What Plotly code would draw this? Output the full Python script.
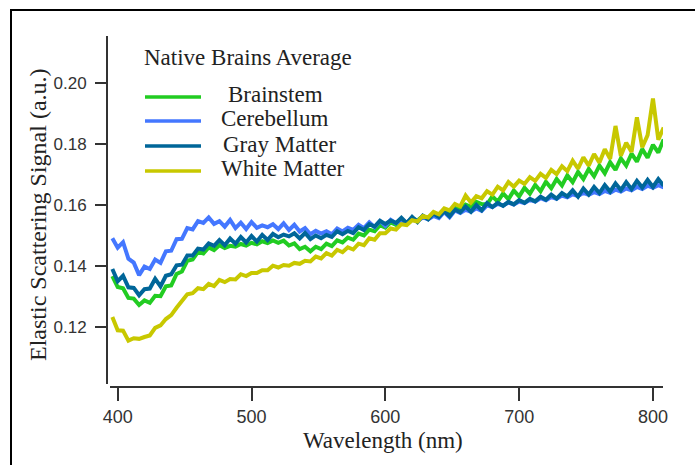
import plotly.graph_objects as go

# ---------------- data ----------------
wavelength = [
    396, 400, 404, 408, 412, 416, 420, 424, 428, 432,
    436, 440, 444, 448, 452, 456, 460, 464, 468, 472,
    476, 480, 484, 488, 492, 496, 500, 504, 508, 512,
    516, 520, 524, 528, 532, 536, 540, 544, 548, 552,
    556, 560, 564, 568, 572, 576, 580, 584, 588, 592,
    596, 600, 604, 608, 612, 616, 620, 624, 628, 632,
    636, 640, 644, 648, 652, 656, 660, 664, 668, 672,
    676, 680, 684, 688, 692, 696, 700, 704, 708, 712,
    716, 720, 724, 728, 732, 736, 740, 744, 748, 752,
    756, 760, 764, 768, 772, 776, 780, 784, 788, 792,
    796, 800, 804, 808,
]

brainstem = [
    0.1368, 0.1332, 0.1328, 0.1296, 0.1294, 0.1273, 0.1288, 0.1280, 0.1303, 0.1302,
    0.1334, 0.1337, 0.1375, 0.1383, 0.1418, 0.1422, 0.1447, 0.1442, 0.1462, 0.1453,
    0.1469, 0.1460, 0.1467, 0.1464, 0.1473, 0.1468, 0.1477, 0.1472, 0.1482, 0.1476,
    0.1485, 0.1477, 0.1484, 0.1468, 0.1475, 0.1456, 0.1464, 0.1449, 0.1464, 0.1456,
    0.1474, 0.1466, 0.1485, 0.1478, 0.1494, 0.1487, 0.1507, 0.1501, 0.1520, 0.1515,
    0.1535, 0.1527, 0.1544, 0.1536, 0.1552, 0.1543, 0.1558, 0.1550, 0.1565, 0.1558,
    0.1573, 0.1566, 0.1582, 0.1575, 0.1592, 0.1586, 0.1602, 0.1595, 0.1611, 0.1604,
    0.1603, 0.1629, 0.1612, 0.1639, 0.1620, 0.1648, 0.1629, 0.1657, 0.1638, 0.1667,
    0.1646, 0.1677, 0.1656, 0.1686, 0.1665, 0.1698, 0.1676, 0.1709, 0.1686, 0.1719,
    0.1695, 0.1730, 0.1705, 0.1741, 0.1716, 0.1754, 0.1730, 0.1769, 0.1743, 0.1784,
    0.1756, 0.1798, 0.1773, 0.1816,
]

cerebellum = [
    0.1492, 0.1461, 0.1479, 0.1425, 0.1412, 0.1371, 0.1399, 0.1391, 0.1422, 0.1411,
    0.1449, 0.1451, 0.1489, 0.1490, 0.1525, 0.1521, 0.1548, 0.1542, 0.1560, 0.1539,
    0.1548, 0.1530, 0.1552, 0.1525, 0.1543, 0.1522, 0.1545, 0.1526, 0.1534, 0.1528,
    0.1538, 0.1522, 0.1541, 0.1519, 0.1536, 0.1514, 0.1525, 0.1505, 0.1516, 0.1507,
    0.1515, 0.1505, 0.1524, 0.1514, 0.1526, 0.1519, 0.1536, 0.1525, 0.1544, 0.1528,
    0.1548, 0.1532, 0.1552, 0.1541, 0.1550, 0.1544, 0.1556, 0.1549, 0.1560, 0.1554,
    0.1565, 0.1558, 0.1578, 0.1561, 0.1583, 0.1575, 0.1585, 0.1579, 0.1590, 0.1582,
    0.1600, 0.1594, 0.1605, 0.1599, 0.1609, 0.1602, 0.1612, 0.1607, 0.1618, 0.1612,
    0.1623, 0.1616, 0.1627, 0.1621, 0.1632, 0.1626, 0.1636, 0.1630, 0.1641, 0.1634,
    0.1643, 0.1637, 0.1647, 0.1641, 0.1651, 0.1645, 0.1655, 0.1649, 0.1660, 0.1653,
    0.1664, 0.1657, 0.1666, 0.1659,
]

gray_matter = [
    0.1391, 0.1351, 0.1369, 0.1331, 0.1329, 0.1305, 0.1325, 0.1327, 0.1359, 0.1334,
    0.1369, 0.1374, 0.1403, 0.1405, 0.1435, 0.1435, 0.1458, 0.1455, 0.1475, 0.1467,
    0.1486, 0.1469, 0.1491, 0.1474, 0.1496, 0.1478, 0.1499, 0.1481, 0.1503, 0.1486,
    0.1506, 0.1495, 0.1504, 0.1498, 0.1508, 0.1491, 0.1509, 0.1489, 0.1501, 0.1492,
    0.1503, 0.1496, 0.1515, 0.1505, 0.1516, 0.1509, 0.1528, 0.1519, 0.1538, 0.1530,
    0.1549, 0.1539, 0.1550, 0.1542, 0.1559, 0.1541, 0.1562, 0.1545, 0.1566, 0.1554,
    0.1573, 0.1562, 0.1581, 0.1564, 0.1586, 0.1577, 0.1596, 0.1579, 0.1601, 0.1584,
    0.1607, 0.1594, 0.1608, 0.1598, 0.1611, 0.1603, 0.1617, 0.1608, 0.1621, 0.1613,
    0.1628, 0.1618, 0.1635, 0.1622, 0.1640, 0.1629, 0.1649, 0.1628, 0.1655, 0.1635,
    0.1660, 0.1640, 0.1666, 0.1645, 0.1672, 0.1650, 0.1676, 0.1653, 0.1680, 0.1658,
    0.1683, 0.1660, 0.1686, 0.1664,
]

white_matter = [
    0.1234, 0.1190, 0.1189, 0.1156, 0.1164, 0.1162, 0.1168, 0.1173, 0.1198, 0.1206,
    0.1227, 0.1240, 0.1264, 0.1287, 0.1308, 0.1312, 0.1328, 0.1325, 0.1342, 0.1335,
    0.1355, 0.1348, 0.1358, 0.1357, 0.1374, 0.1368, 0.1378, 0.1378, 0.1387, 0.1387,
    0.1402, 0.1396, 0.1404, 0.1402, 0.1411, 0.1408, 0.1418, 0.1416, 0.1432, 0.1426,
    0.1443, 0.1435, 0.1454, 0.1446, 0.1462, 0.1455, 0.1474, 0.1469, 0.1492, 0.1487,
    0.1508, 0.1508, 0.1524, 0.1520, 0.1538, 0.1535, 0.1551, 0.1547, 0.1565, 0.1560,
    0.1578, 0.1570, 0.1590, 0.1583, 0.1604, 0.1596, 0.1632, 0.1609, 0.1630, 0.1623,
    0.1646, 0.1635, 0.1661, 0.1649, 0.1676, 0.1661, 0.1681, 0.1670, 0.1692, 0.1680,
    0.1703, 0.1690, 0.1716, 0.1702, 0.1728, 0.1712, 0.1746, 0.1720, 0.1757, 0.1730,
    0.1768, 0.1740, 0.1784, 0.1752, 0.1860, 0.1762, 0.1805, 0.1775, 0.1888, 0.1790,
    0.1830, 0.1950, 0.1815, 0.1855,
]

series_names = ["Brainstem", "Cerebellum", "Gray Matter", "White Matter"]
series_values = [brainstem, cerebellum, gray_matter, white_matter]
series_colors = ["#22CC22", "#4477FF", "#006699", "#C8C800"]

legend_title = "Native Brains Average"
x_title = "Wavelength (nm)"
y_title = "Elastic Scattering Signal (a.u.)"
x_ticks = [400, 500, 600, 700, 800]
y_ticks = [0.12, 0.14, 0.16, 0.18, 0.20]
y_tick_text = ["0.12", "0.14", "0.16", "0.18", "0.20"]

# ---------------- layout geometry (pixels) ----------------
W, H = 695, 465
L, R, T, B = 107, 32, 36, 78
PW, PH = W - L - R, H - T - B


def px(x):
    return (x - L) / PW


def py(y):
    return (H - B - y) / PH


SERIF = "Liberation Serif, Times New Roman, serif"
SANS = "Liberation Sans, Arial, sans-serif"
TXT = "#222222"
AX = "#333333"

fig = go.Figure()
for name, vals, col in zip(series_names, series_values, series_colors):
    fig.add_trace(go.Scatter(
        x=wavelength, y=vals, mode="lines", name=name,
        line=dict(color=col, width=4), showlegend=False,
    ))

fig.update_layout(
    width=W, height=H,
    margin=dict(l=L, r=R, t=T, b=B, pad=0),
    paper_bgcolor="white", plot_bgcolor="white",
    xaxis=dict(
        domain=[3 / PW, 1], anchor="free", position=0,
        range=[394.25, 807.5], tickvals=x_ticks,
        showline=True, linecolor=AX, linewidth=2,
        ticks="outside", ticklen=13, tickwidth=2, tickcolor=AX,
        showgrid=False, zeroline=False,
        tickfont=dict(family=SANS, size=18, color=AX),
        ticklabelstandoff=0,
    ),
    yaxis=dict(
        domain=[3 / PH, 1], anchor="free", position=0,
        range=[0.1014, 0.2155], tickvals=y_ticks, ticktext=y_tick_text,
        showline=True, linecolor=AX, linewidth=2,
        ticks="outside", ticklen=11, tickwidth=2, tickcolor=AX,
        showgrid=False, zeroline=False,
        tickfont=dict(family=SANS, size=17, color=AX),
        ticklabelstandoff=5,
    ),
)

annotations = [
    dict(text=x_title, x=px(383), y=py(441), xanchor="center", yanchor="middle",
         font=dict(family=SERIF, size=23, color=TXT)),
    dict(text=y_title, x=px(38), y=py(215), xanchor="center", yanchor="middle",
         textangle=-90, font=dict(family=SERIF, size=24, color=TXT)),
    dict(text=legend_title, x=px(142), y=py(58), xanchor="left", yanchor="middle",
         font=dict(family=SERIF, size=23, color=TXT)),
]
legend_text_x = [226, 219, 221, 219]
legend_text_y = [94, 119, 144, 168]
legend_line_y = [97, 121, 146, 171]
shapes = []
for name, col, tx, ty, ly in zip(series_names, series_colors, legend_text_x, legend_text_y, legend_line_y):
    annotations.append(dict(text=name, x=px(tx), y=py(ty), xanchor="left", yanchor="middle",
                            font=dict(family=SERIF, size=23, color=TXT)))
    shapes.append(dict(type="line", xref="paper", yref="paper",
                       x0=px(145), x1=px(201), y0=py(ly), y1=py(ly),
                       line=dict(color=col, width=3.5)))
for a in annotations:
    a.update(xref="paper", yref="paper", showarrow=False)

# outer frame
shapes.append(dict(type="rect", xref="paper", yref="paper",
                   x0=px(11), x1=px(720), y0=py(480), y1=py(10),
                   line=dict(color="black", width=2), fillcolor="rgba(0,0,0,0)"))

fig.update_layout(annotations=annotations, shapes=shapes)
fig.write_html("out.html")
